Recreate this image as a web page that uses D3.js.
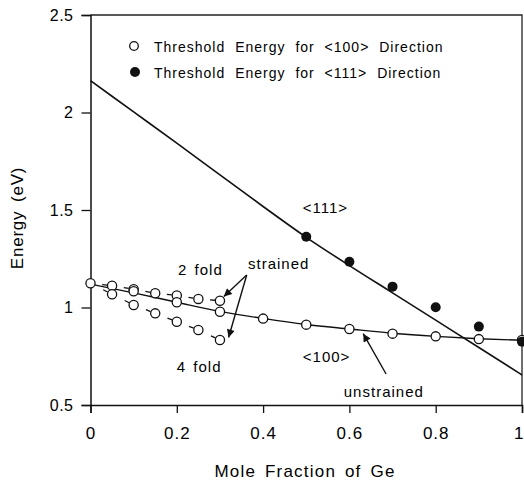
<!DOCTYPE html>
<html>
<head>
<meta charset="utf-8">
<script src="https://cdn.jsdelivr.net/npm/d3@7"></script>
<style>
  body { margin: 0; background: #fff; }
  svg { font-family: "Liberation Sans", Arial, sans-serif; fill: #000; }
</style>
</head>
<body>
<div id="chart"></div>
<script>
// data
const xFold = [0.05, 0.1, 0.15, 0.2, 0.25, 0.3];
const twoFold = [1.112, 1.094, 1.073, 1.062, 1.044, 1.035];
const fourFold = [1.068, 1.013, 0.970, 0.927, 0.885, 0.833];

const xUnstrained = [0, 0.1, 0.2, 0.3, 0.4, 0.5, 0.6, 0.7, 0.8, 0.9, 1.0];
const unstrained = [1.124, 1.083, 1.027, 0.978, 0.943, 0.912, 0.890, 0.866, 0.852, 0.838, 0.833];

const x111 = [0.5, 0.6, 0.7, 0.8, 0.9, 1.0];
const e111 = [1.363, 1.235, 1.107, 1.001, 0.902, 0.825];

// fitted curves
const xFit = [0, 0.1, 0.2, 0.3, 0.4, 0.5, 0.6, 0.7, 0.8, 0.9, 1.0];
const fit111 = [2.163, 2.003, 1.843, 1.68, 1.518, 1.36, 1.215, 1.075, 0.935, 0.795, 0.654];
const fit100 = [1.12, 1.075, 1.027, 0.98, 0.944, 0.913, 0.89, 0.868, 0.852, 0.84, 0.832];

const xTicks = [0, 0.2, 0.4, 0.6, 0.8, 1];
const yTicks = [0.5, 1, 1.5, 2, 2.5];

const legendLabels = ["Threshold Energy for <100> Direction", "Threshold Energy for <111> Direction"];

// annotations: [text, x, y]
const notes = [
  ["2 fold", 0.203, 1.167],
  ["strained", 0.365, 1.197],
  ["4 fold", 0.2, 0.671],
  ["<111>", 0.492, 1.485],
  ["<100>", 0.492, 0.722],
  ["unstrained", 0.587, 0.543]
];
// arrows: [x0, y0, x1, y1]
const arrows = [
  [0.362, 1.167, 0.309, 1.056],
  [0.362, 1.167, 0.320, 0.846],
  [0.685, 0.659, 0.632, 0.866]
];

const W = 524, H = 484;
const svg = d3.select("#chart").append("svg")
  .attr("width", W).attr("height", H);

const x = d3.scaleLinear().domain([0, 1]).range([90.5, 522]);
const y = d3.scaleLinear().domain([0.5, 2.5]).range([405, 15]);

// frame
svg.append("path")
  .attr("d", `M${x(0)},${y(2.5)}H${x(1)}V${y(0.5)}`)
  .attr("fill", "none").attr("stroke", "#222").attr("stroke-width", 1.3);

// axes
const xAxis = svg.append("g")
  .attr("transform", `translate(0,${y(0.5)})`)
  .call(d3.axisBottom(x).tickValues(xTicks).tickSize(8).tickPadding(14)
    .tickFormat(d3.format("~g")));
const yAxis = svg.append("g")
  .attr("transform", `translate(${x(0)},0)`)
  .call(d3.axisLeft(y).tickValues(yTicks).tickSize(9).tickPadding(8)
    .tickFormat(d3.format("~g")));

[xAxis, yAxis].forEach(g => {
  g.select(".domain").attr("stroke", "#111").attr("stroke-width", 1.5);
  g.selectAll(".tick line").attr("stroke", "#111").attr("stroke-width", 1.3);
  g.selectAll("text").attr("fill", "#000").style("font-family", "Liberation Sans, Arial, sans-serif");
});
xAxis.selectAll("text").style("font-size", "17px").style("letter-spacing", "1px");
yAxis.selectAll("text").style("font-size", "16px").style("letter-spacing", "0.5px");
// last x label sits on the page edge: keep it inside
xAxis.selectAll(".tick text").filter(d => d === 1)
  .attr("text-anchor", "end").attr("dx", "1px").style("letter-spacing", "0px");

// axis titles
svg.append("text")
  .attr("x", 305).attr("y", 477)
  .attr("text-anchor", "middle")
  .style("font-size", "17px").style("letter-spacing", "1.2px").style("word-spacing", "3px")
  .text("Mole Fraction of Ge");
svg.append("text")
  .attr("transform", "translate(23,218) rotate(-90)")
  .attr("text-anchor", "middle")
  .style("font-size", "17px").style("letter-spacing", "0.8px").style("word-spacing", "3px")
  .text("Energy (eV)");

const line = d3.line().x(d => x(d[0])).y(d => y(d[1])).curve(d3.curveMonotoneX);

// fitted curves
svg.append("path")
  .datum(xFit.map((v, i) => [v, fit111[i]]))
  .attr("fill", "none").attr("stroke", "#111").attr("stroke-width", 1.6)
  .attr("d", line);
svg.append("path")
  .datum(xFit.map((v, i) => [v, fit100[i]]))
  .attr("fill", "none").attr("stroke", "#111").attr("stroke-width", 1.4)
  .attr("d", line);

// strained dashed connectors: one short dash just before each point
function dashed(vals) {
  const pts = [[0, unstrained[0]]].concat(xFold.map((v, i) => [v, vals[i]]));
  for (let i = 1; i < pts.length; i++) {
    const a = pts[i - 1], b = pts[i];
    const len = Math.hypot(x(b[0]) - x(a[0]), y(b[1]) - y(a[1]));
    svg.append("path")
      .attr("d", d3.line()([[x(a[0]), y(a[1])], [x(b[0]), y(b[1])]]))
      .attr("fill", "none").attr("stroke", "#111").attr("stroke-width", 1.3)
      .attr("stroke-dasharray", `0,${len - 10},5,100`);
  }
}
dashed(twoFold);
dashed(fourFold);

// open circles
const openPts = xFold.map((v, i) => [v, twoFold[i]])
  .concat(xFold.map((v, i) => [v, fourFold[i]]))
  .concat(xUnstrained.map((v, i) => [v, unstrained[i]]));
svg.selectAll("circle.open").data(openPts).join("circle")
  .attr("class", "open")
  .attr("cx", d => x(d[0])).attr("cy", d => y(d[1])).attr("r", 4.6)
  .attr("fill", "#fff").attr("stroke", "#111").attr("stroke-width", 1.3);

// filled circles
svg.selectAll("circle.filled").data(x111.map((v, i) => [v, e111[i]])).join("circle")
  .attr("class", "filled")
  .attr("cx", d => x(d[0])).attr("cy", d => y(d[1])).attr("r", 5)
  .attr("fill", "#111");

// legend
const lg = svg.append("g");
lg.append("circle").attr("cx", 134).attr("cy", 46).attr("r", 4.3)
  .attr("fill", "#fff").attr("stroke", "#111").attr("stroke-width", 1.3);
lg.append("circle").attr("cx", 135).attr("cy", 72).attr("r", 5).attr("fill", "#111");
legendLabels.forEach((t, i) => {
  lg.append("text")
    .attr("x", 154).attr("y", 52 + i * 25.5)
    .style("font-size", "14px").style("letter-spacing", "1px").style("word-spacing", "5px")
    .text(t);
});

// arrowhead
svg.append("defs").append("marker")
  .attr("id", "head").attr("viewBox", "0 0 10 10")
  .attr("refX", 10).attr("refY", 5)
  .attr("markerWidth", 11).attr("markerHeight", 8)
  .attr("markerUnits", "userSpaceOnUse")
  .attr("orient", "auto")
  .append("path").attr("d", "M0,0L10,5L0,10Z").attr("fill", "#111");

svg.selectAll("line.arrow").data(arrows).join("line")
  .attr("class", "arrow")
  .attr("x1", d => x(d[0])).attr("y1", d => y(d[1]))
  .attr("x2", d => x(d[2])).attr("y2", d => y(d[3]))
  .attr("stroke", "#111").attr("stroke-width", 1.4)
  .attr("marker-end", "url(#head)");

svg.selectAll("text.note").data(notes).join("text")
  .attr("class", "note")
  .attr("x", d => x(d[1])).attr("y", d => y(d[2]))
  .style("font-size", "15px").style("letter-spacing", "1px").style("word-spacing", "2px")
  .text(d => d[0]);
</script>
</body>
</html>
